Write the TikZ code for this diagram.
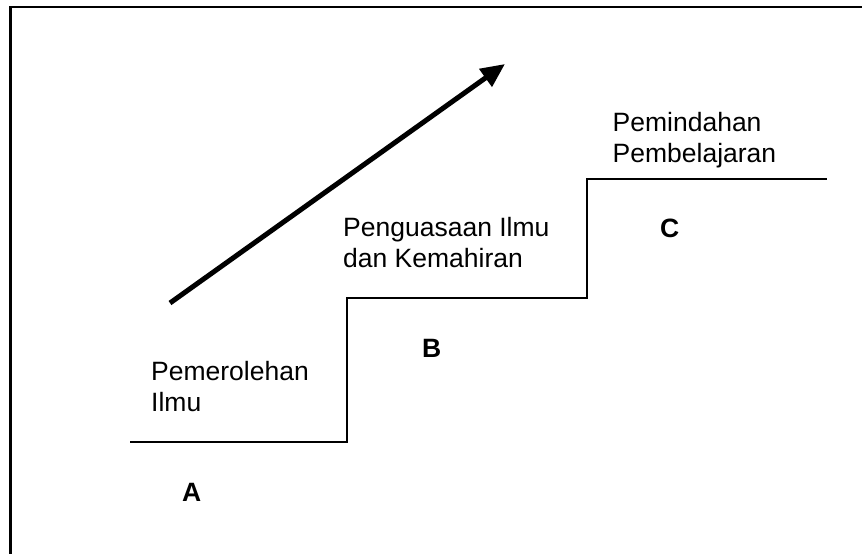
\documentclass[tikz,border=0pt]{standalone}
\usepackage{fontspec}
\setmainfont{Liberation Sans}
\usetikzlibrary{arrows.meta}
\begin{document}
\begin{tikzpicture}[x=1pt,y=-1pt,
  lbl/.style={anchor=base west,inner sep=0pt,align=left,font=\fontsize{26.5}{30.5}\selectfont},
  letter/.style={anchor=base west,inner sep=0pt,font=\fontsize{26.5}{30.5}\selectfont\bfseries},
  stair/.style={line width=2pt,line join=miter},
  frame/.style={line width=2.6pt}]
\useasboundingbox (0,0) rectangle (862,554);
\fill[white] (0,0) rectangle (862,554);
% frame (top and left edges)
\coordinate (fbl) at (10.5,554);
\coordinate (ftl) at (10.5,7);
\coordinate (ftr) at (862,7);
\draw[frame] (fbl) -- (ftl) -- (ftr);
% staircase
\coordinate (s0) at (130,441.5);
\coordinate (s1) at (347,441.5);
\coordinate (s2) at (347,297.5);
\coordinate (s3) at (587,297.5);
\coordinate (s4) at (587,179);
\coordinate (s5) at (827,179);
\draw[stair] (s0) -- (s1) -- (s2) -- (s3) -- (s4) -- (s5);
% arrow
\coordinate (ar0) at (170,303);
\coordinate (ar1) at (505,64);
\draw[line width=5pt,-{Triangle[length=24pt,width=21pt]}] (ar0) -- (ar1);
% labels (anchor at baseline of last line)
\node[lbl] (tA) at (151,411) {Pemerolehan\\Ilmu};
\node[lbl] (tB) at (343,267) {Penguasaan Ilmu\\dan Kemahiran};
\node[lbl] (tC) at (612.5,162) {Pemindahan\\Pembelajaran};
\node[letter] (A) at (182,501) {A};
\node[letter] (B) at (422,357) {B};
\node[letter] (C) at (660,237) {C};
\end{tikzpicture}
\end{document}
